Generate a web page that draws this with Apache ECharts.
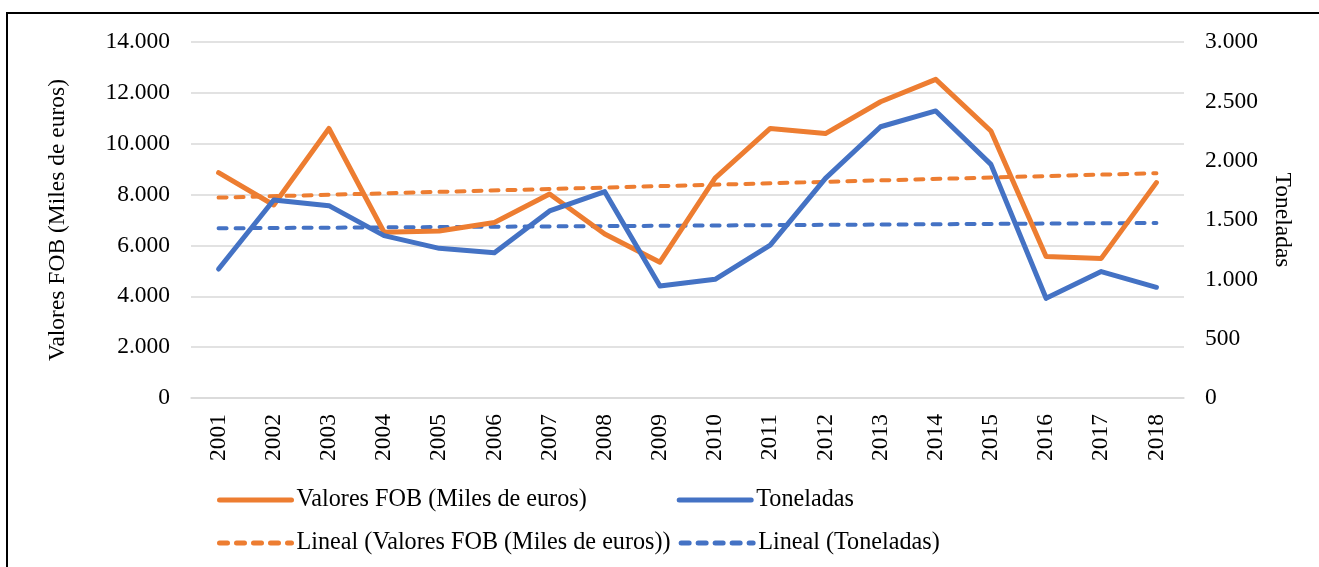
<!DOCTYPE html>
<html>
<head>
<meta charset="utf-8">
<script src="https://cdn.jsdelivr.net/npm/echarts@6/dist/echarts.min.js"></script>
<style>
  html, body { margin: 0; padding: 0; background: #fff; }
  #myEchart { width: 1319px; height: 567px; }
</style>
</head>
<body>
<div id="myEchart"></div>
<script>
// años (eje x)
var years = ['2001', '2002', '2003', '2004', '2005', '2006', '2007', '2008', '2009',
  '2010', '2011', '2012', '2013', '2014', '2015', '2016', '2017', '2018']
// Valores FOB (Miles de euros), eje izquierdo
var valoresFob = [8860, 7590, 10600, 6520, 6570, 6900, 8020, 6450, 5340,
  8650, 10600, 10400, 11650, 12530, 10500, 5560, 5490, 8470]
// Toneladas, eje derecho
var toneladas = [1087, 1669, 1621, 1368, 1261, 1225, 1576, 1739, 944,
  1000, 1289, 1851, 2286, 2419, 1969, 840, 1065, 933]
// extremos de las líneas de tendencia
var tendFobYears = ['2001', '2018']
var tendFobValues = [7880, 8840]
var tendTonYears = ['2001', '2018']
var tendTonValues = [1430, 1475]

var nameFob = 'Valores FOB (Miles de euros)'
var nameTon = 'Toneladas'
var nameTendFob = 'Lineal (Valores FOB (Miles de euros))'
var nameTendTon = 'Lineal (Toneladas)'

var naranja = '#ED7D31'
var azul = '#4472C4'
var fuente = '"Liberation Serif", "Times New Roman", serif'
var tam = 23.5

// separador de miles con punto
function miles (v) {
  return String(v).replace(/\B(?=(\d{3})+(?!\d))/g, '.')
}

// leyenda común (sin el punto del símbolo)
function leyenda (top, gap, data) {
  return {
    left: 212,
    top: top,
    itemWidth: 72,
    itemHeight: 14,
    itemGap: gap,
    itemStyle: { opacity: 0 },
    lineStyle: { width: 5, cap: 'round' },
    textStyle: { fontFamily: fuente, fontSize: 24.2, color: '#000' },
    data: data
  }
}

var chart = echarts.init(document.getElementById('myEchart'))
chart.setOption({
  animation: false,
  textStyle: { fontFamily: fuente, color: '#000' },
  grid: { left: 191, right: 135, top: 42, bottom: 169 },
  graphic: [{
    type: 'rect',
    shape: { x: 7, y: 13, width: 1340, height: 600 },
    style: { fill: 'none', stroke: '#000', lineWidth: 2 },
    silent: true
  }],
  legend: [
    leyenda(483, 90, [nameFob, nameTon]),
    leyenda(526, 8, [nameTendFob, nameTendTon])
  ],
  xAxis: {
    type: 'category',
    data: years,
    boundaryGap: true,
    axisLine: { lineStyle: { color: '#d9d9d9', width: 1.5 } },
    axisTick: { show: false },
    axisLabel: { rotate: 90, margin: 16, fontFamily: fuente, fontSize: tam, color: '#000' }
  },
  yAxis: [{
    type: 'value',
    min: 0,
    max: 14000,
    interval: 2000,
    name: nameFob,
    nameLocation: 'middle',
    nameRotate: 90,
    nameGap: 121,
    nameTextStyle: { fontFamily: fuente, fontSize: tam, color: '#000' },
    axisLine: { show: false },
    axisTick: { show: false },
    splitLine: { lineStyle: { color: '#d9d9d9', width: 1.5 } },
    axisLabel: { margin: 21, fontFamily: fuente, fontSize: tam, color: '#000', formatter: miles }
  }, {
    type: 'value',
    min: 0,
    max: 3000,
    interval: 500,
    name: nameTon,
    nameLocation: 'middle',
    nameRotate: -90,
    nameGap: 86,
    nameTextStyle: { fontFamily: fuente, fontSize: tam, color: '#000' },
    axisLine: { show: false },
    axisTick: { show: false },
    splitLine: { show: false },
    axisLabel: { margin: 21, fontFamily: fuente, fontSize: tam, color: '#000', formatter: miles }
  }],
  series: [{
    name: nameFob,
    type: 'line',
    yAxisIndex: 0,
    data: valoresFob,
    symbol: 'none',
    lineStyle: { color: naranja, width: 5, cap: 'round', join: 'round' },
    itemStyle: { color: naranja },
    z: 3
  }, {
    name: nameTon,
    type: 'line',
    yAxisIndex: 1,
    data: toneladas,
    symbol: 'none',
    lineStyle: { color: azul, width: 5, cap: 'round', join: 'round' },
    itemStyle: { color: azul },
    z: 4
  }, {
    name: nameTendFob,
    type: 'line',
    yAxisIndex: 0,
    data: tendFobYears.map(function (y, i) { return [y, tendFobValues[i]] }),
    symbol: 'none',
    lineStyle: { color: naranja, width: 4, type: [8, 9], cap: 'round' },
    itemStyle: { color: naranja },
    z: 2
  }, {
    name: nameTendTon,
    type: 'line',
    yAxisIndex: 1,
    data: tendTonYears.map(function (y, i) { return [y, tendTonValues[i]] }),
    symbol: 'none',
    lineStyle: { color: azul, width: 4, type: [8, 9], cap: 'round' },
    itemStyle: { color: azul },
    z: 2
  }]
})
</script>
</body>
</html>
